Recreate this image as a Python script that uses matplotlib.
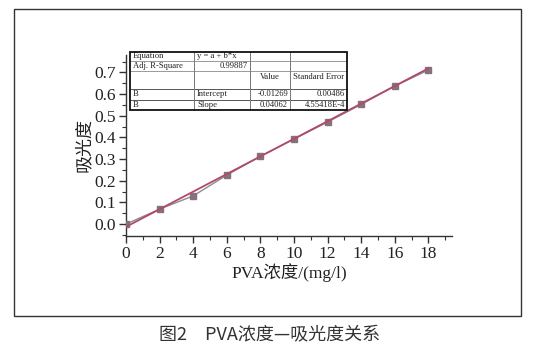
import matplotlib
matplotlib.use("Agg")
import matplotlib.pyplot as plt
from matplotlib.lines import Line2D
from matplotlib.patches import Rectangle
import numpy as np

plt.rcParams['font.family'] = ['Liberation Serif', 'Noto Sans CJK SC']

# data
conc = [0, 2, 4, 6, 8, 10, 12, 14, 16, 18]
absorb = [0.0, 0.069, 0.130, 0.226, 0.313, 0.392, 0.471, 0.552, 0.637, 0.711]
intercept = -0.01269
slope = 0.04062
xticks = [0, 2, 4, 6, 8, 10, 12, 14, 16, 18]
yticks = [0.0, 0.1, 0.2, 0.3, 0.4, 0.5, 0.6, 0.7]
table_rows = [
    ["Equation", "y = a + b*x", "", ""],
    ["Adj. R-Square", "0.99887", "", ""],
    ["", "", "Value", "Standard Error"],
    ["B", "Intercept", "-0.01269", "0.00486"],
    ["B", "Slope", "0.04062", "4.55418E-4"],
]

W, H = 542, 353
fig = plt.figure(figsize=(W / 100, H / 100), dpi=100)

def fx(px):
    return px / W

def fy(py):
    return 1 - py / H

ax = fig.add_axes([fx(126), fy(236), fx(452) - fx(126), fy(55) - fy(236)])
ax.plot(conc, absorb, color='#8e8a96', lw=1.0, marker='s', ms=4,
        mfc='#85707e', mec='#85707e', zorder=3)
xf = np.array([conc[0], conc[-1]])
ax.plot(xf, intercept + slope * xf, color='#b04a6a', lw=1.3, zorder=4)

ax.set_xlim(0, 19.4)
ax.set_ylim(-0.055, 0.78)
ax.set_xticks(xticks)
ax.set_xticks(np.arange(0, 19.5, 1), minor=True)
ax.set_yticks(yticks)
ax.set_yticks(np.arange(-0.05, 0.78, 0.05), minor=True)
ax.set_yticklabels([f"{v:.1f}" for v in yticks])
for s in ['top', 'right']:
    ax.spines[s].set_visible(False)
for s in ['left', 'bottom']:
    ax.spines[s].set_color('#333333')
    ax.spines[s].set_linewidth(1.0)
ax.tick_params(which='major', direction='out', length=5, width=1, colors='#333333',
               labelsize=12.5, labelcolor='#222222', pad=2)
ax.tick_params(which='minor', direction='out', length=3, width=0.8, colors='#333333')
ax.set_xlabel("PVA浓度/(mg/l)", fontsize=12.5, color='#222222', labelpad=1)
ax.set_ylabel("吸光度", fontsize=13, color='#222222', labelpad=1)

# outer frame
fig.patches.append(Rectangle((fx(14), fy(316)), fx(521) - fx(14), fy(9) - fy(316),
                             transform=fig.transFigure, fill=False,
                             edgecolor='#333333', lw=1.0))

# caption
fig.text(fx(270), fy(335), "图2　PVA浓度—吸光度关系", ha='center', va='center',
         fontsize=13, color='#333333', family=['Noto Sans CJK SC', 'Liberation Serif'])

# table
cols = [130, 194, 250, 290, 347]
rows = [52, 61, 71, 89, 100, 110]
for i, y in enumerate(rows[1:-1]):
    c = '#999999' if i < 2 else '#555555'
    fig.add_artist(Line2D([fx(cols[0]), fx(cols[-1])], [fy(y), fy(y)],
                          transform=fig.transFigure, color=c, lw=0.7))
for x in cols[1:-1]:
    fig.add_artist(Line2D([fx(x), fx(x)], [fy(rows[0]), fy(rows[-1])],
                          transform=fig.transFigure, color='#777777', lw=0.7))
fig.patches.append(Rectangle((fx(cols[0]), fy(rows[-1])), fx(cols[-1]) - fx(cols[0]),
                             fy(rows[0]) - fy(rows[-1]), transform=fig.transFigure,
                             fill=False, edgecolor='#111111', lw=1.3, zorder=5))
for r, row in enumerate(table_rows):
    yc = (rows[r] + rows[r + 1]) / 2
    if r == 2:
        yc = rows[r] + 6
    for c, txt in enumerate(row):
        if not txt:
            continue
        right = (c >= 2) or (r == 1 and c == 1)
        if right:
            x, ha = cols[c + 1] - 2, 'right'
        else:
            x, ha = cols[c] + 3, 'left'
        if r == 2:
            x, ha = (cols[c] + cols[c + 1]) / 2, 'center'
        fig.text(fx(x), fy(yc), txt, ha=ha, va='center', fontsize=6.2, color='#222222')

fig.savefig("out.png", dpi=100)
